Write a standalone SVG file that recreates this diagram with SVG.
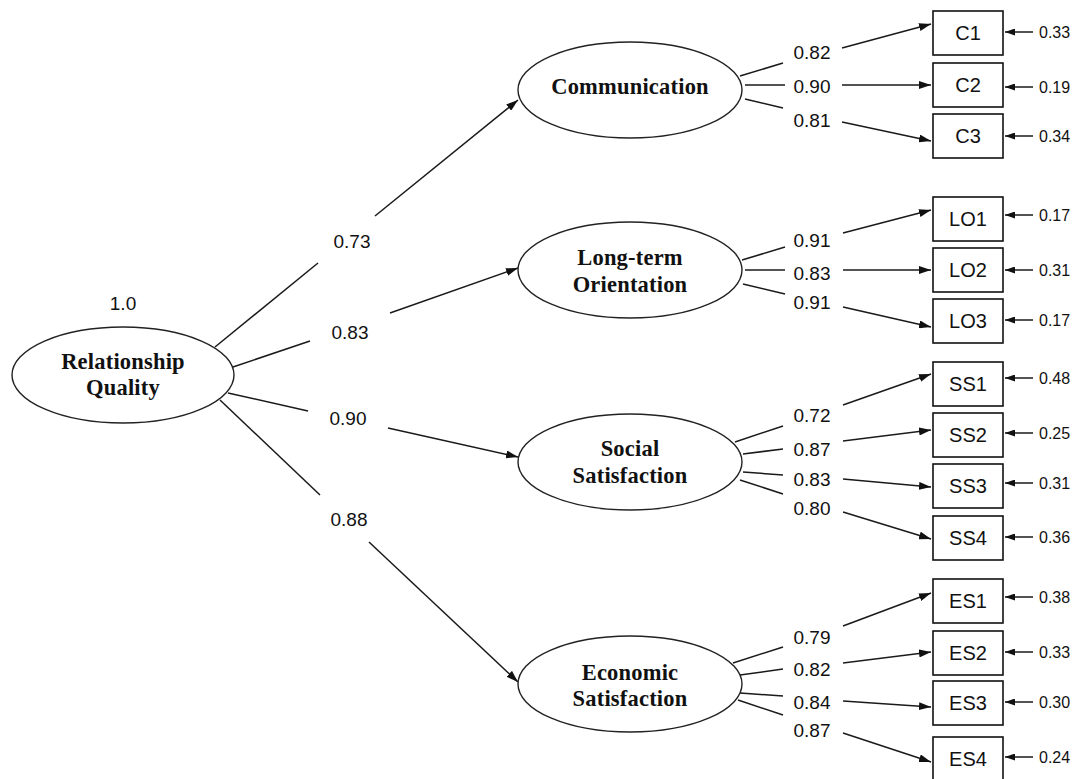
<svg xmlns="http://www.w3.org/2000/svg" width="1080" height="779" viewBox="0 0 1080 779">
<defs>
<marker id="ah" markerUnits="userSpaceOnUse" markerWidth="12" markerHeight="8" refX="12" refY="4" orient="auto"><path d="M0,0 L12,4 L0,8 z" fill="#111"/></marker>
<marker id="ahs" markerUnits="userSpaceOnUse" markerWidth="10" markerHeight="7" refX="10" refY="3.5" orient="auto"><path d="M0,0 L10,3.5 L0,7 z" fill="#111"/></marker>
</defs>
<style>
.lat{fill:#fff;stroke:#222;stroke-width:1.4}
.box{fill:#fff;stroke:#111;stroke-width:1.6}
.lt{font-family:"Liberation Serif",serif;font-weight:bold;font-size:22.5px;letter-spacing:0.2px;fill:#111;text-anchor:middle}
.bt{font-family:"Liberation Sans",Arial,sans-serif;font-size:20px;fill:#111;text-anchor:middle}
.nl{font-family:"Liberation Sans",Arial,sans-serif;font-size:19px;fill:#111;text-anchor:middle}
.el{font-family:"Liberation Sans",Arial,sans-serif;font-size:16px;fill:#111}
.cn line{stroke:#1a1a1a;stroke-width:1.5}
.ar{marker-end:url(#ah)}
.er{marker-end:url(#ahs)}
</style>
<rect width="1080" height="779" fill="#fff"/>
<g id="connectors" class="cn">
<line x1="215" y1="347" x2="318" y2="263"/><line class="ar" x1="375" y1="216" x2="518" y2="100"/>
<line x1="233" y1="367" x2="310" y2="341"/><line class="ar" x1="390" y1="313" x2="518" y2="268"/>
<line x1="228" y1="393" x2="308" y2="411"/><line class="ar" x1="388" y1="428" x2="518" y2="457"/>
<line x1="220" y1="400" x2="320" y2="495"/><line class="ar" x1="369" y1="542" x2="518" y2="682"/>
<line x1="740" y1="76" x2="783" y2="63"/><line class="ar" x1="842" y1="48" x2="931" y2="24"/>
<line x1="745" y1="85" x2="785" y2="85"/><line class="ar" x1="842" y1="85" x2="931" y2="85"/>
<line x1="745" y1="99" x2="783" y2="108"/><line class="ar" x1="842" y1="122" x2="931" y2="141"/>
<line x1="742" y1="260" x2="785" y2="247"/><line class="ar" x1="843" y1="233" x2="931" y2="210"/>
<line x1="745" y1="270" x2="785" y2="270"/><line class="ar" x1="843" y1="270" x2="931" y2="270"/>
<line x1="743" y1="284" x2="785" y2="294"/><line class="ar" x1="843" y1="307" x2="931" y2="327"/>
<line x1="735" y1="442" x2="783" y2="426"/><line class="ar" x1="843" y1="405" x2="931" y2="374"/>
<line x1="743" y1="454" x2="783" y2="449"/><line class="ar" x1="843" y1="441" x2="931" y2="430"/>
<line x1="743" y1="472" x2="783" y2="475"/><line class="ar" x1="843" y1="479" x2="931" y2="487"/>
<line x1="740" y1="480" x2="783" y2="494"/><line class="ar" x1="843" y1="512" x2="931" y2="539"/>
<line x1="733" y1="663" x2="783" y2="647"/><line class="ar" x1="843" y1="626" x2="931" y2="593"/>
<line x1="740" y1="675" x2="783" y2="669"/><line class="ar" x1="843" y1="663" x2="931" y2="652"/>
<line x1="740" y1="693" x2="783" y2="696"/><line class="ar" x1="843" y1="701" x2="931" y2="707"/>
<line x1="738" y1="700" x2="783" y2="715"/><line class="ar" x1="843" y1="733" x2="931" y2="762"/>
<line class="er" x1="1033" y1="32" x2="1005" y2="32"/>
<line class="er" x1="1033" y1="87" x2="1005" y2="87"/>
<line class="er" x1="1033" y1="136" x2="1005" y2="136"/>
<line class="er" x1="1033" y1="215" x2="1005" y2="215"/>
<line class="er" x1="1033" y1="270" x2="1005" y2="270"/>
<line class="er" x1="1033" y1="320" x2="1005" y2="320"/>
<line class="er" x1="1033" y1="378" x2="1005" y2="378"/>
<line class="er" x1="1033" y1="433" x2="1005" y2="433"/>
<line class="er" x1="1033" y1="483" x2="1005" y2="483"/>
<line class="er" x1="1033" y1="537" x2="1005" y2="537"/>
<line class="er" x1="1033" y1="597" x2="1005" y2="597"/>
<line class="er" x1="1033" y1="652" x2="1005" y2="652"/>
<line class="er" x1="1033" y1="702" x2="1005" y2="702"/>
<line class="er" x1="1033" y1="757" x2="1005" y2="757"/>
</g>
<g id="connector-labels">
<text class="nl" x="123" y="310">1.0</text>
<text class="nl" x="352" y="248">0.73</text>
<text class="nl" x="350" y="339">0.83</text>
<text class="nl" x="348" y="425">0.90</text>
<text class="nl" x="349" y="526">0.88</text>
<text class="nl" x="812" y="59">0.82</text>
<text class="nl" x="812" y="93">0.90</text>
<text class="nl" x="812" y="127">0.81</text>
<text class="nl" x="812" y="247">0.91</text>
<text class="nl" x="812" y="280">0.83</text>
<text class="nl" x="812" y="309">0.91</text>
<text class="nl" x="812" y="422">0.72</text>
<text class="nl" x="812" y="456">0.87</text>
<text class="nl" x="812" y="486">0.83</text>
<text class="nl" x="812" y="515">0.80</text>
<text class="nl" x="812" y="644">0.79</text>
<text class="nl" x="812" y="676">0.82</text>
<text class="nl" x="812" y="709">0.84</text>
<text class="nl" x="812" y="737">0.87</text>
<text class="el" x="1039" y="38">0.33</text>
<text class="el" x="1039" y="93">0.19</text>
<text class="el" x="1039" y="142">0.34</text>
<text class="el" x="1039" y="221">0.17</text>
<text class="el" x="1039" y="276">0.31</text>
<text class="el" x="1039" y="326">0.17</text>
<text class="el" x="1039" y="384">0.48</text>
<text class="el" x="1039" y="439">0.25</text>
<text class="el" x="1039" y="489">0.31</text>
<text class="el" x="1039" y="543">0.36</text>
<text class="el" x="1039" y="603">0.38</text>
<text class="el" x="1039" y="658">0.33</text>
<text class="el" x="1039" y="708">0.30</text>
<text class="el" x="1039" y="763">0.24</text>
</g>
<g id="RQ"><ellipse class="lat" cx="123" cy="375" rx="111" ry="48"/><text class="lt" x="123" y="369">Relationship</text><text class="lt" x="123" y="395">Quality</text></g>
<g id="COM"><ellipse class="lat" cx="630" cy="90" rx="112" ry="48"/><text class="lt" x="630" y="94">Communication</text></g>
<g id="LTO"><ellipse class="lat" cx="630" cy="270" rx="112" ry="48"/><text class="lt" x="630" y="265">Long-term</text><text class="lt" x="630" y="292">Orientation</text></g>
<g id="SOC"><ellipse class="lat" cx="630" cy="462" rx="112" ry="48"/><text class="lt" x="630" y="456">Social</text><text class="lt" x="630" y="483">Satisfaction</text></g>
<g id="ECO"><ellipse class="lat" cx="630" cy="684" rx="112" ry="48"/><text class="lt" x="630" y="680">Economic</text><text class="lt" x="630" y="706">Satisfaction</text></g>
<g id="C1"><rect class="box" x="933" y="11" width="70" height="44"/><text class="bt" x="968" y="40">C1</text></g>
<g id="C2"><rect class="box" x="933" y="63" width="70" height="44"/><text class="bt" x="968" y="92">C2</text></g>
<g id="C3"><rect class="box" x="933" y="114" width="70" height="44"/><text class="bt" x="968" y="143">C3</text></g>
<g id="LO1"><rect class="box" x="933" y="197" width="70" height="44"/><text class="bt" x="968" y="226">LO1</text></g>
<g id="LO2"><rect class="box" x="933" y="248" width="70" height="44"/><text class="bt" x="968" y="277">LO2</text></g>
<g id="LO3"><rect class="box" x="933" y="299" width="70" height="44"/><text class="bt" x="968" y="328">LO3</text></g>
<g id="SS1"><rect class="box" x="933" y="362" width="70" height="44"/><text class="bt" x="968" y="391">SS1</text></g>
<g id="SS2"><rect class="box" x="933" y="413" width="70" height="44"/><text class="bt" x="968" y="442">SS2</text></g>
<g id="SS3"><rect class="box" x="933" y="464" width="70" height="44"/><text class="bt" x="968" y="493">SS3</text></g>
<g id="SS4"><rect class="box" x="933" y="516" width="70" height="44"/><text class="bt" x="968" y="545">SS4</text></g>
<g id="ES1"><rect class="box" x="933" y="579" width="70" height="44"/><text class="bt" x="968" y="608">ES1</text></g>
<g id="ES2"><rect class="box" x="933" y="631" width="70" height="44"/><text class="bt" x="968" y="660">ES2</text></g>
<g id="ES3"><rect class="box" x="933" y="681" width="70" height="44"/><text class="bt" x="968" y="710">ES3</text></g>
<g id="ES4"><rect class="box" x="933" y="737" width="70" height="44"/><text class="bt" x="968" y="766">ES4</text></g>
</svg>
